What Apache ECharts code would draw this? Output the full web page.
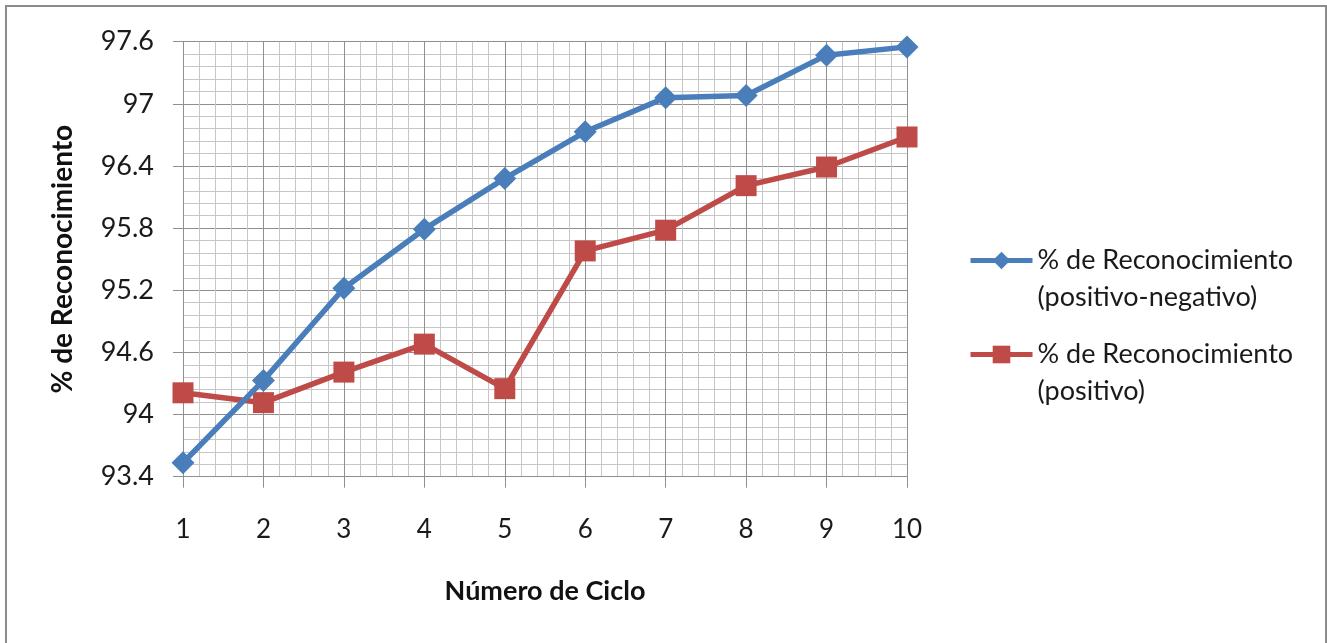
<!DOCTYPE html>
<html>
<head>
<meta charset="utf-8">
<script src="https://cdn.jsdelivr.net/npm/echarts@6/dist/echarts.min.js"></script>
<style>
html,body{margin:0;padding:0;background:#fff;}
#chart{width:1327px;height:643px;}
</style>
</head>
<body>
<div id="chart"></div>
<script>
const cycles = [1, 2, 3, 4, 5, 6, 7, 8, 9, 10];
const posNeg = [93.535, 94.33, 95.22, 95.79, 96.28, 96.73, 97.06, 97.08, 97.47, 97.55];
const pos = [94.21, 94.115, 94.41, 94.68, 94.25, 95.58, 95.78, 96.21, 96.39, 96.68];
const seriesNames = ['% de Reconocimiento\n(positivo-negativo)', '% de Reconocimiento\n(positivo)'];
const xTitle = 'Número de Ciclo';
const yTitle = '% de Reconocimiento';

const FONT = 'Lato';
const chart = echarts.init(document.getElementById('chart'));
const majorColor = '#8f8f8f';
const minorColor = '#c6c6c6';

function legendFor(name, top) {
  return {
    data: [name],
    left: 968,
    top: top,
    orient: 'vertical',
    itemWidth: 62,
    itemHeight: 22,
    padding: 0,
    selectedMode: false,
    lineStyle: { width: 5 },
    formatter: function (n) { return '\n' + n; },
    textStyle: { fontFamily: FONT, fontSize: 27, color: '#1a1a1a', lineHeight: 37 }
  };
}

chart.setOption({
  animation: false,
  graphic: [{
    type: 'rect',
    shape: { x: 6, y: 6, width: 1320, height: 700 },
    style: { fill: 'none', stroke: '#8c8c8c', lineWidth: 2 },
    silent: true
  }],
  grid: { left: 183, right: 420, top: 41.7, bottom: 166.3 },
  legend: [legendFor(seriesNames[0], 205), legendFor(seriesNames[1], 299)],
  xAxis: {
    type: 'value',
    min: 1, max: 10, interval: 1,
    name: xTitle,
    nameLocation: 'middle',
    nameGap: 101,
    nameTextStyle: { fontFamily: FONT, fontSize: 27, fontWeight: 'bold', color: '#111' },
    axisLine: { show: true, lineStyle: { color: majorColor, width: 1 } },
    axisTick: { show: true, length: 11, lineStyle: { color: majorColor } },
    axisLabel: { margin: 40, fontFamily: FONT, fontSize: 26, color: '#1a1a1a' },
    splitLine: { show: true, lineStyle: { color: majorColor, width: 1 } },
    minorTick: { show: false, splitNumber: 5 },
    minorSplitLine: { show: true, lineStyle: { color: minorColor, width: 1 } }
  },
  yAxis: {
    type: 'value',
    min: 93.4, max: 97.6, interval: 0.6,
    name: yTitle,
    nameLocation: 'middle',
    nameGap: 106,
    nameRotate: 90,
    nameTextStyle: { fontFamily: FONT, fontSize: 28, fontWeight: 'bold', color: '#111' },
    axisLine: { show: true, lineStyle: { color: majorColor, width: 1 } },
    axisTick: { show: true, length: 10, lineStyle: { color: majorColor } },
    axisLabel: { margin: 29, fontFamily: FONT, fontSize: 27, color: '#1a1a1a' },
    splitLine: { show: true, lineStyle: { color: majorColor, width: 1 } },
    minorTick: { show: false, splitNumber: 5 },
    minorSplitLine: { show: true, lineStyle: { color: minorColor, width: 1 } }
  },
  series: [
    {
      name: seriesNames[0],
      type: 'line',
      data: cycles.map((c, i) => [c, posNeg[i]]),
      symbol: 'diamond',
      symbolSize: [23, 23],
      color: '#4A7EBB',
      lineStyle: { width: 5.5, color: '#4A7EBB' },
      itemStyle: { color: '#4A7EBB' },
      z: 3
    },
    {
      name: seriesNames[1],
      type: 'line',
      data: cycles.map((c, i) => [c, pos[i]]),
      symbol: 'rect',
      symbolSize: 21,
      color: '#BE4B48',
      lineStyle: { width: 5.5, color: '#BE4B48' },
      itemStyle: { color: '#BE4B48' },
      z: 2
    }
  ]
});
</script>
</body>
</html>
